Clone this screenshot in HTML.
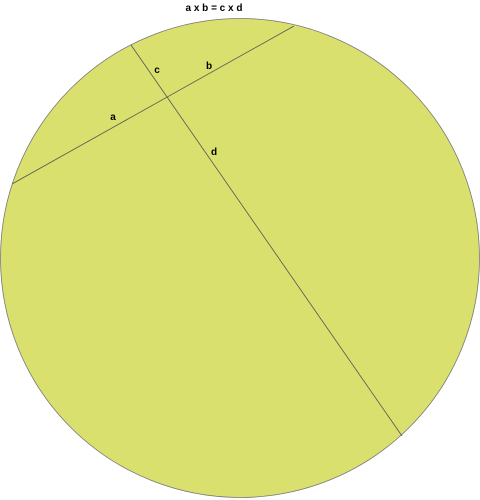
<!DOCTYPE html>
<html><head><meta charset="utf-8"><style>
html,body{margin:0;padding:0;background:#fff;}
svg{display:block;font-family:"Liberation Sans",sans-serif;}
</style></head><body>
<svg id="chart" width="480" height="500">
<text x="214" y="11" text-anchor="middle" font-size="10" font-weight="bold">a x b = c x d</text>
</svg>
<script>
const circle = [240, 258, 240];
const chordNames = ["chord-ab", "chord-cd"];
const chordStart = [[12, 184], [131, 45]];
const chordEnd = [[294, 26], [402, 436]];
const labels = ["a", "b", "c", "d"];
const labelPos = [[113, 120], [209, 69], [157, 73], [214, 155]];
const svg = document.getElementById('chart');
const NS = 'http://www.w3.org/2000/svg';
const c = document.createElementNS(NS, 'circle');
c.setAttribute('cx', circle[0]); c.setAttribute('cy', circle[1]); c.setAttribute('r', circle[2] - 0.5);
c.setAttribute('fill', '#d9e06e'); c.setAttribute('stroke', '#777'); c.setAttribute('stroke-width', '0.8');


svg.insertBefore(c, svg.firstChild);
chordNames.forEach((n, i) => {
  const l = document.createElementNS(NS, 'line');
  l.setAttribute('x1', chordStart[i][0]); l.setAttribute('y1', chordStart[i][1]);
  l.setAttribute('x2', chordEnd[i][0]); l.setAttribute('y2', chordEnd[i][1]);
  l.setAttribute('stroke', '#555'); l.setAttribute('stroke-width', '0.8');
  
  
  svg.appendChild(l);
});
labels.forEach((t, i) => {
  const tx = document.createElementNS(NS, 'text');
  tx.setAttribute('x', labelPos[i][0]); tx.setAttribute('y', labelPos[i][1]);
  tx.setAttribute('text-anchor', 'middle'); tx.setAttribute('font-size', '10'); tx.setAttribute('font-weight', 'bold');
  tx.textContent = t;
  
  
  svg.appendChild(tx);
});
</script>
</body></html>
